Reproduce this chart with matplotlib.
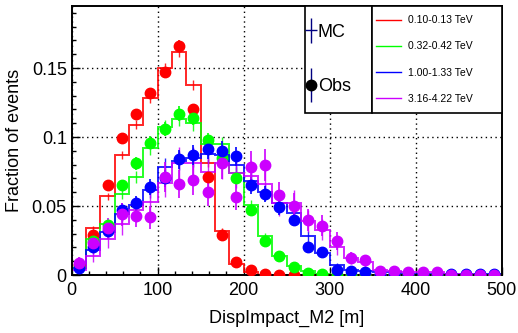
import numpy as np
import matplotlib.pyplot as plt
from matplotlib.lines import Line2D
from matplotlib.patches import Rectangle
from matplotlib.legend_handler import HandlerTuple

plt.rcParams['font.family'] = ['Liberation Sans', 'DejaVu Sans']

# 30 bins from 0 to 500 m
edges = np.linspace(0, 500, 31)
centers = 0.5 * (edges[:-1] + edges[1:])

labels = ['0.10-0.13 TeV', '0.32-0.42 TeV', '1.00-1.33 TeV', '3.16-4.22 TeV']
colors = ['#ff0000', '#00ff00', '#0000ff', '#cc00ff']

# observed fractions per bin
obs_red = [0.007, 0.029, 0.065, 0.0995, 0.117, 0.132, 0.147, 0.166, 0.120, 0.071,
           0.029, 0.0096, 0.0034, 0.0005, 0.0, 0.0, 0.0, 0.0, 0.0, 0.0,
           0.0, 0.0, 0.0, 0.0, 0.0, 0.0, 0.0, 0.0, 0.0, 0.0]
obs_green = [0.006, 0.025, 0.036, 0.065, 0.081, 0.096, 0.106, 0.117, 0.114, 0.098,
             0.085, 0.070, 0.047, 0.025, 0.0137, 0.0058, 0.0017, 0.001, 0.0, 0.0,
             0.0, 0.0, 0.0, 0.0, 0.0, 0.0, 0.0, 0.0, 0.0, 0.0]
obs_blue = [0.005, 0.020, 0.032, 0.047, 0.052, 0.064, 0.070, 0.084, 0.087, 0.091,
            0.090, 0.086, 0.065, 0.059, 0.049, 0.040, 0.020, 0.0166, 0.004, 0.003,
            0.002, 0.001, 0.001, 0.001, 0.001, 0.001, 0.001, 0.001, 0.001, 0.001]
obs_mag = [0.009, 0.023, 0.034, 0.044, 0.043, 0.042, 0.071, 0.066, 0.069, 0.060,
           0.081, 0.0565, 0.0786, 0.080, 0.0577, 0.050, 0.040, 0.0358, 0.0245, 0.0125,
           0.0106, 0.003, 0.003, 0.002, 0.002, 0.002, 0.0, 0.0, 0.0, 0.0]

# MC fractions per bin
mc_red = [0.005, 0.034, 0.057, 0.087, 0.109, 0.128, 0.150, 0.162, 0.1375, 0.081,
          0.032, 0.008, 0.002, 0.0, 0.0, 0.0, 0.0, 0.0, 0.0, 0.0,
          0.0, 0.0, 0.0, 0.0, 0.0, 0.0, 0.0, 0.0, 0.0, 0.0]
mc_green = [0.005, 0.026, 0.037, 0.059, 0.071, 0.092, 0.107, 0.113, 0.110, 0.095,
            0.095, 0.074, 0.051, 0.028, 0.0137, 0.0065, 0.003, 0.001, 0.0, 0.0,
            0.0, 0.0, 0.0, 0.0, 0.0, 0.0, 0.0, 0.0, 0.0, 0.0]
mc_blue = [0.005, 0.0185, 0.031, 0.044, 0.051, 0.062, 0.078, 0.083, 0.085, 0.088,
           0.087, 0.080, 0.068, 0.060, 0.052, 0.045, 0.028, 0.016, 0.007, 0.004,
           0.003, 0.002, 0.002, 0.001, 0.001, 0.001, 0.001, 0.001, 0.001, 0.001]
mc_mag = [0.004, 0.014, 0.026, 0.037, 0.047, 0.053, 0.067, 0.081, 0.081, 0.075,
          0.081, 0.074, 0.072, 0.066, 0.052, 0.052, 0.039, 0.033, 0.020, 0.0123,
          0.0094, 0.004, 0.003, 0.002, 0.002, 0.002, 0.001, 0.001, 0.0, 0.0]

# rough event counts, used for the statistical error bars
n_events = [10000, 4000, 1800, 600]

obs_all = [obs_red, obs_green, obs_blue, obs_mag]
mc_all = [mc_red, mc_green, mc_blue, mc_mag]

fig = plt.figure(figsize=(5.18, 3.33), dpi=100)
ax = fig.add_axes([0.1384, 0.174, 0.8298, 0.808])

# MC: step histogram plus error bars
for mc, c, n in zip(mc_all, colors, n_events):
    mc = np.array(mc)
    ax.stairs(mc, edges, baseline=None, color=c, lw=1.4, alpha=0.85, zorder=2)
    ax.errorbar(centers, mc, yerr=np.sqrt(mc / n), fmt='none', ecolor=c,
                elinewidth=1.0, alpha=0.85, zorder=2)
# Obs: points
for obs, c, n in zip(obs_all, colors, n_events):
    obs = np.array(obs)
    ax.errorbar(centers, obs, yerr=np.sqrt(obs / n), fmt='o', color=c, ms=7.5,
                elinewidth=1.2, zorder=3)

ax.set_xlim(0, 500)
ax.set_ylim(0, 0.195)
ax.set_xticks([0, 100, 200, 300, 400, 500])
ax.set_xticks(np.arange(0, 501, 20), minor=True)
ax.set_yticks([0, 0.05, 0.1, 0.15])
ax.set_yticklabels(['0', '0.05', '0.1', '0.15'])
ax.set_yticks(np.arange(0, 0.195, 0.01), minor=True)
ax.tick_params(which='both', direction='in', top=False, right=False,
               labelsize=13, width=1.0)
ax.tick_params(which='major', length=6)
ax.tick_params(which='minor', length=3)
ax.tick_params(axis='x', pad=5)
for s in ax.spines.values():
    s.set_linewidth(1.4)
ax.grid(True, which='major', color='black', linestyle=(0, (1, 2.5)), lw=1.0)
ax.set_axisbelow(True)

ax.set_xlabel('DispImpact_M2 [m]', fontsize=13, labelpad=8)
ax.set_ylabel('Fraction of events', fontsize=13, labelpad=6)

# legend boxes
x0, x1, x2, yb = 0.543, 0.699, 1.0, 0.602
for xa, xb in [(x0, x1), (x1, x2)]:
    ax.add_patch(Rectangle((xa, yb), xb - xa, 1.0 - yb, transform=ax.transAxes,
                           facecolor='white', edgecolor='black', lw=1.2,
                           zorder=5, clip_on=False))

mc_h = (Line2D([], [], marker='|', ms=18, color='#000080', ls='none', mew=1.0),
        Line2D([], [], marker='_', ms=8, color='#000080', ls='none', mew=1.0))
obs_h = (Line2D([], [], marker='|', ms=24, color='#000080', ls='none', mew=1.0),
         Line2D([], [], marker='o', ms=7.5, color='black', ls='none'))
leg1 = ax.legend([mc_h, obs_h], ['MC', 'Obs'], loc='center left',
                 bbox_to_anchor=(x0, yb, x1 - x0, 1.0 - yb), frameon=False,
                 fontsize=13, handler_map={tuple: HandlerTuple(ndivide=1)},
                 handlelength=0.6, handletextpad=0.1, labelspacing=2.1,
                 borderaxespad=0.0, borderpad=0.0)
leg1.set_zorder(6)
ax.add_artist(leg1)

line_h = [Line2D([], [], color=c, lw=1.0) for c in colors]
leg2 = ax.legend(line_h, labels, loc='center left',
                 bbox_to_anchor=(x1 + 0.01, yb, x2 - x1, 1.0 - yb), frameon=False,
                 fontsize=7.5, handlelength=2.4, handletextpad=0.6, labelspacing=1.55,
                 borderaxespad=0.0, borderpad=0.0)
leg2.set_zorder(6)

fig.savefig('out.png', dpi=100)
